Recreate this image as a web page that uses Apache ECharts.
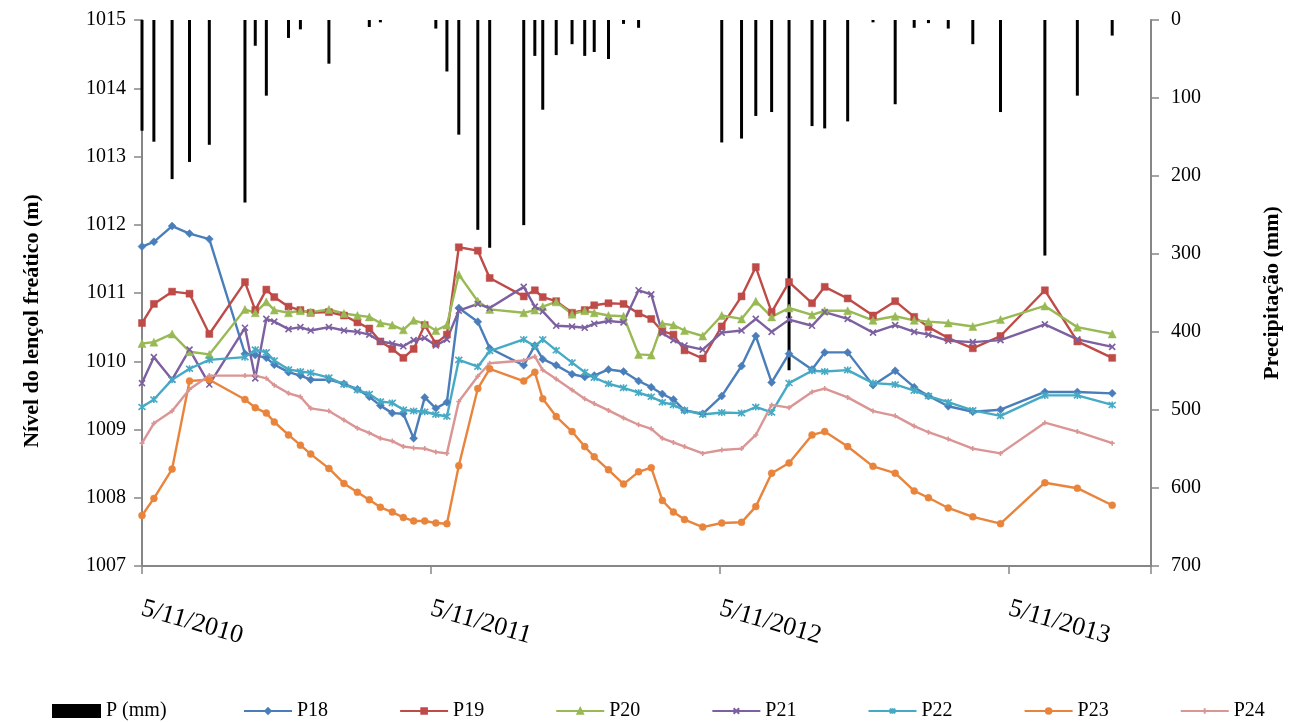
<!DOCTYPE html>
<html>
<head>
<meta charset="utf-8">
<script src="https://cdn.jsdelivr.net/npm/echarts@6/dist/echarts.min.js"></script>
<style>
  html, body { margin: 0; padding: 0; background: #ffffff; }
  #chart { width: 1292px; height: 722px; }
</style>
</head>
<body>
<div id="chart"></div>
<script>
// Observation dates (water table readings and accumulated rainfall)
const obsDates = [
  '2010-11-05','2010-11-20','2010-12-13','2011-01-04','2011-01-29','2011-03-15','2011-03-28','2011-04-11',
  '2011-04-21','2011-05-09','2011-05-24','2011-06-06','2011-06-29','2011-07-18','2011-08-04','2011-08-19',
  '2011-09-02','2011-09-17','2011-10-01','2011-10-14','2011-10-28','2011-11-11','2011-11-25','2011-12-10',
  '2012-01-03','2012-01-18','2012-03-01','2012-03-15','2012-03-25','2012-04-11','2012-05-01','2012-05-17',
  '2012-05-29','2012-06-16','2012-07-05','2012-07-24','2012-08-09','2012-08-23','2012-09-06','2012-09-20',
  '2012-10-13','2012-11-06','2012-12-01','2012-12-19','2013-01-08','2013-01-30','2013-02-28','2013-03-16',
  '2013-04-14','2013-05-16','2013-06-13','2013-07-07','2013-07-25','2013-08-19','2013-09-19','2013-10-24',
  '2013-12-19','2014-01-29','2014-03-14'
];

// Rainfall between readings (mm)
const precip = [
  142,156,204,182,160,234,33,97,0,23,
  12,0,56,0,0,9,3,0,0,0,
  0,11,66,147,269,292,263,46,115,45,
  31,46,41,50,5,10,0,0,0,0,
  0,157,152,123,118,449,136,139,130,3,
  108,10,4,11,31,118,302,97,20
];

// Water table level per well (m)
const p18 = [
  1011.68,1011.75,1011.98,1011.87,1011.79,1010.11,1010.09,1010.05,1009.95,1009.84,
  1009.79,1009.73,1009.73,1009.67,1009.59,1009.48,1009.35,1009.24,1009.23,1008.87,
  1009.47,1009.31,1009.40,1010.78,1010.58,1010.19,1009.94,1010.23,1010.03,1009.94,
  1009.81,1009.77,1009.79,1009.88,1009.85,1009.71,1009.62,1009.52,1009.44,1009.28,
  1009.23,1009.49,1009.93,1010.37,1009.69,1010.11,1009.88,1010.13,1010.13,1009.65,
  1009.86,1009.62,1009.49,1009.34,1009.26,1009.29,1009.55,1009.55,1009.53
];
const p19 = [
  1010.56,1010.84,1011.02,1010.99,1010.40,1011.16,1010.75,1011.05,1010.94,1010.80,
  1010.75,1010.71,1010.72,1010.67,1010.57,1010.48,1010.29,1010.18,1010.05,1010.18,
  1010.53,1010.26,1010.39,1011.67,1011.62,1011.22,1010.95,1011.04,1010.94,1010.88,
  1010.71,1010.75,1010.82,1010.85,1010.84,1010.70,1010.62,1010.44,1010.39,1010.16,
  1010.04,1010.51,1010.95,1011.38,1010.72,1011.16,1010.85,1011.09,1010.92,1010.67,
  1010.88,1010.65,1010.50,1010.34,1010.19,1010.37,1011.04,1010.29,1010.05
];
const p20 = [
  1010.26,1010.28,1010.40,1010.14,1010.10,1010.76,1010.71,1010.87,1010.75,1010.71,
  1010.74,1010.72,1010.76,1010.70,1010.67,1010.65,1010.56,1010.53,1010.46,1010.60,
  1010.55,1010.45,1010.53,1011.27,1010.88,1010.76,1010.71,1010.75,1010.80,1010.87,
  1010.69,1010.74,1010.71,1010.67,1010.66,1010.10,1010.09,1010.55,1010.53,1010.45,
  1010.37,1010.67,1010.62,1010.88,1010.65,1010.78,1010.68,1010.74,1010.74,1010.60,
  1010.66,1010.60,1010.58,1010.56,1010.51,1010.61,1010.81,1010.50,1010.40
];
const p21 = [
  1009.68,1010.06,1009.73,1010.17,1009.66,1010.49,1009.75,1010.62,1010.58,1010.47,
  1010.50,1010.45,1010.50,1010.45,1010.43,1010.39,1010.29,1010.26,1010.22,1010.31,
  1010.34,1010.23,1010.32,1010.74,1010.84,1010.78,1011.09,1010.80,1010.73,1010.52,
  1010.51,1010.49,1010.55,1010.59,1010.57,1011.04,1010.98,1010.41,1010.31,1010.23,
  1010.17,1010.42,1010.45,1010.62,1010.43,1010.61,1010.52,1010.72,1010.62,1010.42,
  1010.53,1010.43,1010.39,1010.30,1010.28,1010.31,1010.54,1010.32,1010.21
];
const p22 = [
  1009.33,1009.44,1009.73,1009.89,1010.02,1010.06,1010.17,1010.13,1010.01,1009.88,
  1009.85,1009.83,1009.76,1009.66,1009.58,1009.52,1009.41,1009.39,1009.29,1009.27,
  1009.26,1009.22,1009.19,1010.02,1009.92,1010.15,1010.32,1010.22,1010.32,1010.16,
  1009.98,1009.84,1009.76,1009.67,1009.61,1009.54,1009.48,1009.40,1009.36,1009.28,
  1009.22,1009.25,1009.24,1009.33,1009.25,1009.68,1009.86,1009.85,1009.87,1009.68,
  1009.66,1009.57,1009.49,1009.40,1009.28,1009.20,1009.50,1009.50,1009.36
];
const p23 = [
  1007.74,1007.99,1008.42,1009.71,1009.73,1009.44,1009.32,1009.24,1009.11,1008.92,
  1008.77,1008.64,1008.43,1008.21,1008.08,1007.97,1007.86,1007.79,1007.71,1007.66,
  1007.66,1007.63,1007.62,1008.47,1009.60,1009.89,1009.71,1009.84,1009.45,1009.19,
  1008.97,1008.75,1008.60,1008.41,1008.20,1008.38,1008.44,1007.96,1007.79,1007.68,
  1007.57,1007.63,1007.64,1007.87,1008.36,1008.51,1008.92,1008.97,1008.75,1008.46,
  1008.36,1008.10,1008.00,1007.85,1007.72,1007.62,1008.22,1008.14,1007.89
];
const p24 = [
  1008.80,1009.09,1009.27,1009.59,1009.79,1009.79,1009.79,1009.75,1009.65,1009.53,
  1009.48,1009.31,1009.27,1009.14,1009.02,1008.95,1008.87,1008.83,1008.75,1008.73,
  1008.72,1008.67,1008.65,1009.41,1009.78,1009.97,1010.01,1010.07,1009.87,1009.74,
  1009.58,1009.45,1009.38,1009.28,1009.17,1009.07,1009.01,1008.87,1008.81,1008.75,
  1008.65,1008.70,1008.72,1008.92,1009.36,1009.32,1009.55,1009.60,1009.47,1009.27,
  1009.20,1009.05,1008.96,1008.86,1008.72,1008.65,1009.10,1008.97,1008.80
];

const xTickLabels = ['5/11/2010', '5/11/2011', '5/11/2012', '5/11/2013'];
const levelTicks = [1007, 1015];
const rainTicks = [0, 700];

// Day offsets from the first reading
const startDate = obsDates[0];
function dayOffset(s) {
  const a = s.split('-').map(Number);
  const b = startDate.split('-').map(Number);
  return Math.round((Date.UTC(a[0], a[1] - 1, a[2]) - Date.UTC(b[0], b[1] - 1, b[2])) / 86400000);
}
const days = obsDates.map(dayOffset);
const pair = arr => arr.map((v, i) => [days[i], v]);

const FONT = '"Liberation Serif", "Times New Roman", serif';
const AXIS_GREY = '#868686';

const wells = [
  { name: 'P18', data: p18, color: '#4A7EBB', symbol: 'diamond', size: 8 },
  { name: 'P19', data: p19, color: '#BE4B48', symbol: 'rect', size: 7 },
  { name: 'P20', data: p20, color: '#98B954', symbol: 'triangle', size: 8 },
  { name: 'P21', data: p21, color: '#7D60A0', symbol: 'path://M0,0L10,10M10,0L0,10', size: 6, stroke: true },
  { name: 'P22', data: p22, color: '#46AAC5', symbol: 'path://M0,0L10,10M10,0L0,10M5,-1L5,11', size: 7, stroke: true },
  { name: 'P23', data: p23, color: '#E8843C', symbol: 'circle', size: 7 },
  { name: 'P24', data: p24, color: '#D99694', symbol: 'path://M5,0L5,10M0,5L10,5', size: 5, stroke: true }
];

const lineSeries = wells.map(w => ({
  name: w.name,
  type: 'line',
  yAxisIndex: 0,
  data: pair(w.data),
  symbol: w.symbol,
  symbolSize: w.size,
  showAllSymbol: true,
  lineStyle: { color: w.color, width: 2.4 },
  itemStyle: w.stroke
    ? { color: w.color, borderColor: w.color, borderWidth: 1.6 }
    : { color: w.color, borderColor: w.color, borderWidth: 0.5 },
  emphasis: { disabled: true },
  z: 3
}));

const legendText = { fontFamily: FONT, fontSize: 20, color: '#000' };

const chart = echarts.init(document.getElementById('chart'), null, { renderer: 'canvas' });

chart.setOption({
  animation: false,
  backgroundColor: '#ffffff',
  textStyle: { fontFamily: FONT, color: '#000' },
  grid: { left: 142, right: 141, top: 20, bottom: 156, containLabel: false, outerBoundsMode: 'none' },
  legend: [
    {
      left: 47,
      top: 696,
      itemWidth: 49,
      itemHeight: 14,
      textStyle: legendText,
      data: [{ name: 'P (mm)', icon: 'rect' }]
    },
    {
      left: 238,
      top: 696,
      itemWidth: 48,
      itemHeight: 7,
      itemGap: 71,
      textStyle: legendText,
      data: wells.map(w => w.name)
    }
  ],
  xAxis: {
    type: 'value',
    min: 0,
    max: 1274,
    interval: 365,
    axisLine: { show: true, onZero: false, lineStyle: { color: AXIS_GREY, width: 2 } },
    axisTick: { show: true, inside: false, length: 8, lineStyle: { color: AXIS_GREY, width: 1.5 } },
    splitLine: { show: false },
    axisLabel: {
      fontFamily: FONT,
      fontSize: 26,
      color: '#000',
      rotate: -16,
      margin: 42,
      formatter: v => {
        const i = v / 365;
        return Number.isInteger(i) && i < xTickLabels.length ? xTickLabels[i] : '';
      }
    }
  },
  yAxis: [
    {
      type: 'value',
      position: 'left',
      min: levelTicks[0],
      max: levelTicks[1],
      interval: 1,
      name: 'Nível do lençol freático (m)',
      nameLocation: 'middle',
      nameRotate: 90,
      nameGap: 99,
      nameTextStyle: { fontFamily: FONT, fontSize: 22, fontWeight: 'bold', color: '#000', padding: [0, 56, 0, 0] },
      axisLine: { show: true, lineStyle: { color: AXIS_GREY, width: 2 } },
      axisTick: { show: true, inside: false, length: 8, lineStyle: { color: AXIS_GREY, width: 1.5 } },
      splitLine: { show: false },
      axisLabel: { fontFamily: FONT, fontSize: 20, color: '#000', margin: 16, formatter: v => String(v) }
    },
    {
      type: 'value',
      position: 'right',
      inverse: true,
      min: rainTicks[0],
      max: rainTicks[1],
      interval: 100,
      name: 'Precipitação (mm)',
      nameLocation: 'middle',
      nameRotate: 90,
      nameGap: 110,
      nameTextStyle: { fontFamily: FONT, fontSize: 22, fontWeight: 'bold', color: '#000' },
      axisLine: { show: true, lineStyle: { color: AXIS_GREY, width: 2 } },
      axisTick: { show: true, inside: false, length: 8, lineStyle: { color: AXIS_GREY, width: 1.5 } },
      splitLine: { show: false },
      axisLabel: { fontFamily: FONT, fontSize: 20, color: '#000', margin: 20, formatter: v => String(v) }
    }
  ],
  series: [
    {
      name: 'P (mm)',
      type: 'bar',
      yAxisIndex: 1,
      data: pair(precip),
      barWidth: 3,
      itemStyle: { color: '#000000' },
      emphasis: { disabled: true },
      z: 2
    }
  ].concat(lineSeries)
});
</script>
</body>
</html>
